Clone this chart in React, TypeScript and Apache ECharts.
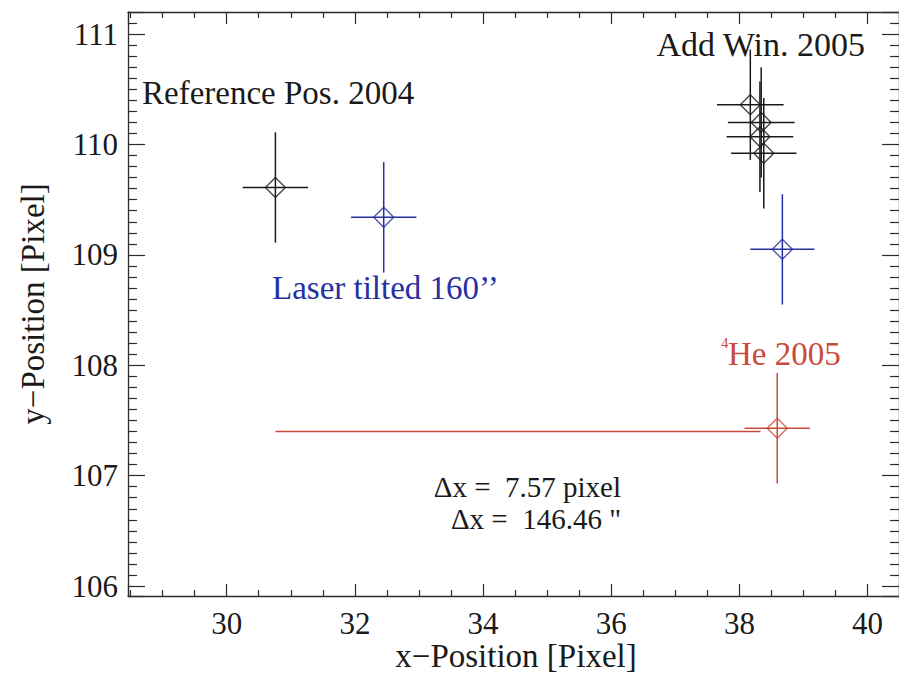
import React, { useEffect, useRef } from "react";
import * as echarts from "echarts";

// ---- data ----
const blackX = [30.76, 38.17, 38.34, 38.32, 38.38];
const blackY = [109.61, 110.36, 110.2, 110.07, 109.92];
const blackXErr = [0.51, 0.52, 0.52, 0.52, 0.51];
const blackYErr = [0.5, 0.5, 0.5, 0.5, 0.5];

const blueX = [32.45, 38.67];
const blueY = [109.34, 109.05];
const blueXErr = [0.51, 0.5];
const blueYErr = [0.5, 0.5];

const redX = [38.59];
const redY = [107.43];
const redXErr = [0.51];
const redYErr = [0.5];

const deltaX = [30.76, 38.33];
const deltaY = [107.4, 107.4];

const xRange = [28.46, 40.49];
const yRange = [105.91, 111.2];

const labelRef = "Reference Pos. 2004";
const labelAdd = "Add Win. 2005";
const labelLaser = "Laser tilted 160’’";
const labelHe = "He 2005";
const labelHeSup = "4";
const labelDx = "Δx =  7.57 pixel\nΔx =  146.46 \"";
const xTitle = "x−Position [Pixel]";
const yTitle = "y−Position [Pixel]";

const FONT = "Liberation Serif";
const BLACK = "#1a1a1a";
const BLUE = "#2630a0";
const RED = "#c84a3a";
const AXIS = "#2a2a2a";

function rows(xs: number[], ys: number[], ex: number[], ey: number[]) {
  return xs.map((x, i) => [x, ys[i], ex[i], ey[i]]);
}

function errSeries(data: number[][], color: string) {
  return {
    type: "custom",
    xAxisIndex: 0,
    yAxisIndex: 0,
    data,
    encode: { x: 0, y: 1 },
    z: 3,
    renderItem: (_p: any, api: any) => {
      const x = api.value(0);
      const y = api.value(1);
      const ex = api.value(2);
      const ey = api.value(3);
      const l = api.coord([x - ex, y]);
      const r = api.coord([x + ex, y]);
      const t = api.coord([x, y + ey]);
      const b = api.coord([x, y - ey]);
      return {
        type: "group",
        children: [
          { type: "line", shape: { x1: l[0], y1: l[1], x2: r[0], y2: r[1] }, style: { stroke: color, lineWidth: 1.5 } },
          { type: "line", shape: { x1: t[0], y1: t[1], x2: b[0], y2: b[1] }, style: { stroke: color, lineWidth: 1.5 } },
        ],
      };
    },
  };
}

function diamondSeries(xs: number[], ys: number[], color: string) {
  return {
    type: "scatter",
    xAxisIndex: 0,
    yAxisIndex: 0,
    data: xs.map((x, i) => [x, ys[i]]),
    symbol: "diamond",
    symbolSize: [20, 20],
    z: 4,
    itemStyle: { color: "rgba(0,0,0,0)", borderColor: color, borderWidth: 1.4 },
    emphasis: { disabled: true },
  };
}

function xAxisCfg(position: string, labels: boolean) {
  return {
    type: "value",
    position,
    min: xRange[0],
    max: xRange[1],
    splitNumber: 6,
    axisLine: { show: true, onZero: false, lineStyle: { color: AXIS, width: 1.3 } },
    axisTick: { show: true, inside: true, length: 12, lineStyle: { color: AXIS, width: 1.2 } },
    minorTick: { show: true, splitNumber: 4, length: 6, lineStyle: { color: AXIS, width: 1.2 } },
    axisLabel: {
      show: labels,
      showMinLabel: false,
      showMaxLabel: false,
      fontFamily: FONT,
      fontSize: 31,
      lineHeight: 22,
      color: BLACK,
      margin: 16,
    },
    splitLine: { show: false },
    minorSplitLine: { show: false },
  };
}

function yAxisCfg(position: string, labels: boolean) {
  return {
    type: "value",
    position,
    min: yRange[0],
    max: yRange[1],
    splitNumber: 5,
    axisLine: { show: true, onZero: false, lineStyle: { color: AXIS, width: 1.3 } },
    axisTick: { show: true, inside: true, length: 17, lineStyle: { color: AXIS, width: 1.2 } },
    minorTick: { show: true, splitNumber: 10, length: 9, lineStyle: { color: AXIS, width: 1.2 } },
    axisLabel: {
      show: labels,
      showMinLabel: false,
      showMaxLabel: false,
      fontFamily: FONT,
      fontSize: 31,
      color: BLACK,
      margin: 10,
    },
    splitLine: { show: false },
    minorSplitLine: { show: false },
  };
}

function txt(text: string, x: number, y: number, color: string, size: number, align: string, rotation = 0, lineHeight?: number) {
  return {
    type: "text",
    x,
    y,
    rotation,
    z: 10,
    style: {
      text,
      fill: color,
      fontFamily: FONT,
      fontSize: size,
      lineHeight: lineHeight ?? size,
      align,
      verticalAlign: "middle",
    },
  };
}

export default function App() {
  const ref = useRef<HTMLDivElement>(null);
  useEffect(() => {
    if (!ref.current) return;
    const chart = echarts.init(ref.current, null, { renderer: "svg" });
    chart.setOption({
      animation: false,
      backgroundColor: "#ffffff",
      grid: { left: 128, top: 12, width: 778, height: 584, containLabel: false },
      xAxis: [xAxisCfg("bottom", true), xAxisCfg("top", false)],
      yAxis: [yAxisCfg("left", true), yAxisCfg("right", false)],
      series: [
        {
          type: "line",
          xAxisIndex: 0,
          yAxisIndex: 0,
          data: deltaX.map((x, i) => [x, deltaY[i]]),
          showSymbol: false,
          symbol: "none",
          lineStyle: { color: RED, width: 1.5 },
          z: 2,
        },
        errSeries(rows(blackX, blackY, blackXErr, blackYErr), BLACK),
        errSeries(rows(blueX, blueY, blueXErr, blueYErr), BLUE),
        errSeries(rows(redX, redY, redXErr, redYErr), RED),
        diamondSeries(blackX, blackY, BLACK),
        diamondSeries(blueX, blueY, BLUE),
        diamondSeries(redX, redY, RED),
      ],
      graphic: [
        txt(labelRef, 142, 93, BLACK, 33, "left"),
        txt(labelAdd, 865, 44, BLACK, 34, "right"),
        txt(labelLaser, 272, 288, BLUE, 33, "left"),
        txt(labelHe, 728, 354, RED, 33, "left"),
        txt(labelHeSup, 721, 343, RED, 15, "left"),
        txt(labelDx, 621, 503, BLACK, 29, "right", 0, 32),
        txt(xTitle, 516, 656, BLACK, 33, "center", 0, 24),
        txt(yTitle, 33, 304, BLACK, 33, "center", Math.PI / 2),
      ],
    });
    return () => chart.dispose();
  }, []);
  return (
    <div
      ref={ref}
      style={{ position: "absolute", left: 0, top: 0, width: 899, height: 682 }}
    />
  );
}
